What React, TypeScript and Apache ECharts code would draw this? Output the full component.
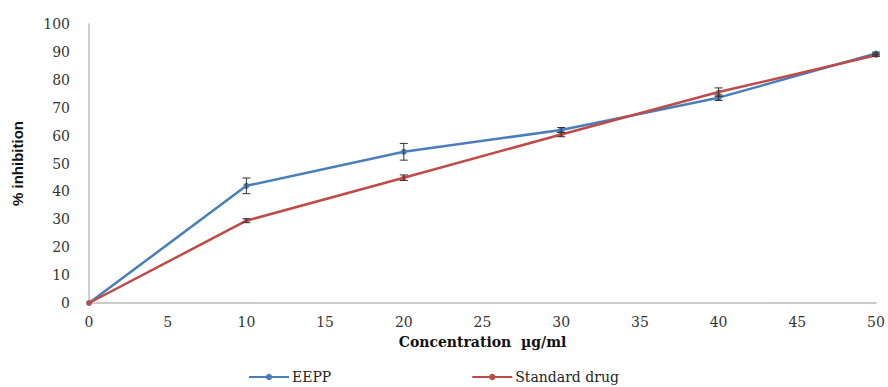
import React, { useEffect, useRef } from "react";
import * as echarts from "echarts";

const concentrations = [0, 10, 20, 30, 40, 50];
const eeppValues = [0, 42, 54.2, 62, 73.6, 89.4];
const eeppErrors = [0, 2.8, 3, 0.9, 1, 0.5];
const stdValues = [0, 29.5, 44.9, 60.4, 75.6, 88.8];
const stdErrors = [0, 0.7, 1, 0.8, 1.5, 0.4];

const BLUE = "#4A7EBB";
const RED = "#BE4B48";

function errorSeries(values: number[], errors: number[], name: string) {
  const data = concentrations.map((c, i) => [c, values[i] - errors[i], values[i] + errors[i]]);
  return {
    type: "custom",
    name: name + "-err",
    z: 5,
    silent: true,
    renderItem: (params: any, api: any) => {
      const x = api.value(0);
      const lo = api.coord([x, api.value(1)]);
      const hi = api.coord([x, api.value(2)]);
      if (Math.abs(hi[1] - lo[1]) < 1) return null;
      const w = 4;
      const style = { stroke: "#333", lineWidth: 1 };
      return {
        type: "group",
        children: [
          { type: "line", shape: { x1: lo[0], y1: lo[1], x2: hi[0], y2: hi[1] }, style },
          { type: "line", shape: { x1: lo[0] - w, y1: lo[1], x2: lo[0] + w, y2: lo[1] }, style },
          { type: "line", shape: { x1: hi[0] - w, y1: hi[1], x2: hi[0] + w, y2: hi[1] }, style },
        ],
      };
    },
    data,
  };
}

export default function App() {
  const ref = useRef<HTMLDivElement>(null);
  useEffect(() => {
    if (!ref.current) return;
    const chart = echarts.init(ref.current, null, { renderer: "svg" });
    const serif = "DejaVu Serif";
    chart.setOption({
      animation: false,
      backgroundColor: "#fff",
      grid: { left: 89, right: 12, top: 24, bottom: 84, containLabel: false, outerBoundsMode: "none" },
      legend: {
        bottom: 3,
        left: 248,
        padding: 0,
        itemGap: 140,
        itemWidth: 40,
        itemHeight: 8,
        textStyle: { fontFamily: serif, fontSize: 14, color: "#222", padding: [0, 0, 0, -2] },
        data: ["EEPP", "Standard drug"],
      },
      xAxis: {
        type: "value",
        min: 0,
        max: 50,
        interval: 5,
        name: "Concentration  µg/ml",
        nameLocation: "middle",
        nameGap: 32,
        nameTextStyle: { fontFamily: serif, fontSize: 14, fontWeight: "bold", color: "#111" },
        axisLine: { show: true, lineStyle: { color: "#bbb", width: 1.5 } },
        axisTick: { show: false },
        splitLine: { show: false },
        axisLabel: { fontFamily: serif, fontSize: 14, color: "#333", margin: 12 },
      },
      yAxis: {
        type: "value",
        min: 0,
        max: 100,
        interval: 10,
        name: "% inhibition",
        nameLocation: "middle",
        nameGap: 64,
        nameRotate: 90,
        nameTextStyle: {
          fontFamily: "Liberation Sans Narrow, Arial Narrow, sans-serif",
          fontSize: 15,
          fontWeight: "bold",
          color: "#111",
        },
        axisLine: { show: true, lineStyle: { color: "#bbb", width: 1.5 } },
        axisTick: { show: false },
        splitLine: { show: false },
        axisLabel: { fontFamily: serif, fontSize: 14, color: "#333", margin: 19 },
      },
      series: [
        {
          type: "line",
          name: "EEPP",
          data: concentrations.map((c, i) => [c, eeppValues[i]]),
          symbol: "circle",
          symbolSize: 6,
          lineStyle: { color: BLUE, width: 2.5 },
          itemStyle: { color: BLUE },
          z: 3,
        },
        {
          type: "line",
          name: "Standard drug",
          data: concentrations.map((c, i) => [c, stdValues[i]]),
          symbol: "circle",
          symbolSize: 5,
          lineStyle: { color: RED, width: 2.5 },
          itemStyle: { color: RED },
          z: 4,
        },
        errorSeries(eeppValues, eeppErrors, "EEPP"),
        errorSeries(stdValues, stdErrors, "Standard drug"),
      ],
    });
    return () => chart.dispose();
  }, []);
  return (
    <div
      ref={ref}
      style={{ position: "fixed", left: 0, top: 0, width: 888, height: 387, background: "#fff" }}
    />
  );
}
